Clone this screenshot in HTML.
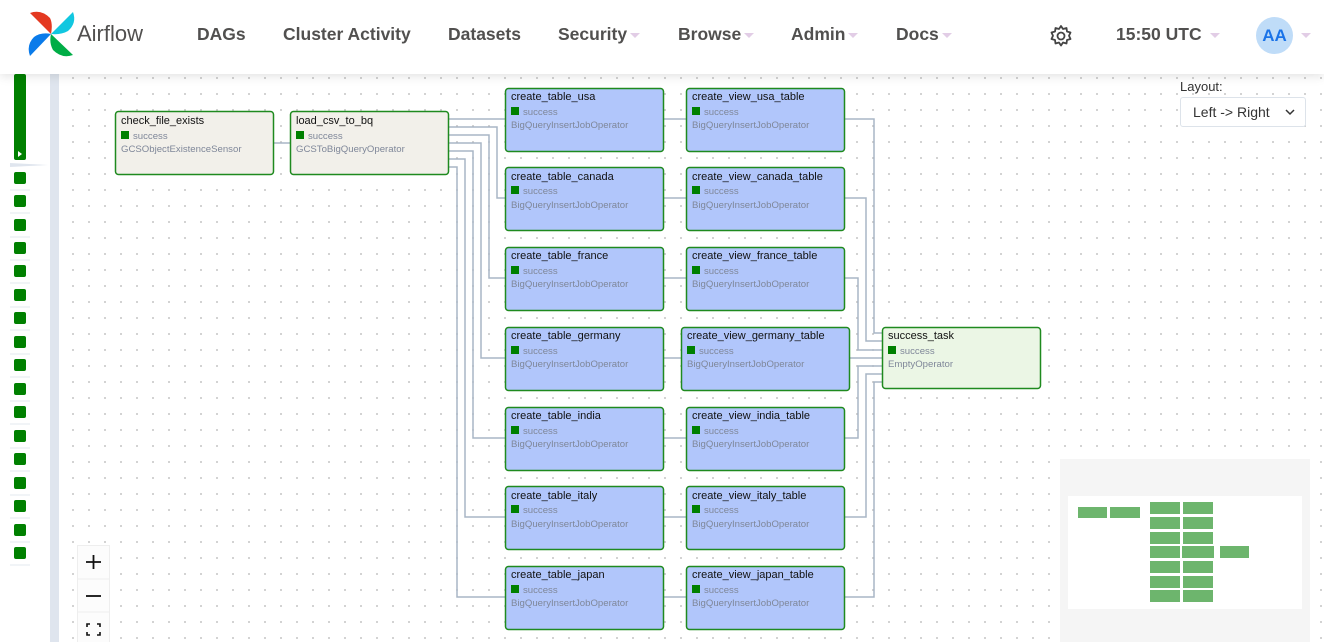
<!DOCTYPE html>
<html><head><meta charset="utf-8"><style>
*{margin:0;padding:0;box-sizing:border-box}
body{width:1324px;height:642px;overflow:hidden;background:#fff;font-family:"Liberation Sans",sans-serif;position:relative}
.nav{position:absolute;left:0;top:0;width:1324px;height:74px;background:#fff;z-index:5;box-shadow:0 2px 10px rgba(0,0,0,.12)}
.nav .it{position:absolute;top:24px;font-size:17.5px;font-weight:bold;color:#51504f}
.car{display:inline-block;width:0;height:0;border-left:5px solid transparent;border-right:5px solid transparent;border-top:5px solid #e2cde6;margin-left:3px;vertical-align:middle}
.graph{position:absolute;left:59px;top:74px;width:1265px;height:568px;background-color:#fff;background-image:radial-gradient(circle,#c8c8c8 0.9px,transparent 1.1px);background-size:16px 16px;background-position:6px -4px}
</style></head><body>
<div class="nav">
<svg style="position:absolute;left:27px;top:10px" width="50" height="48" viewBox="0 0 50 48">
<path d="M24,24 L3,3 Q14,-1 23,8 Q26,14 24,24Z" fill="#e43921"/>
<path d="M24,24 L46,2 Q50,13 41,21 Q34,25 24,24Z" fill="#11c7e0"/>
<path d="M24,24 L46,45 Q35,49 26,40 Q22,33 24,24Z" fill="#00ad46"/>
<path d="M24,24 L3,46 Q-1,35 7,27 Q14,22 24,24Z" fill="#0a7bea"/>
</svg>
<div style="position:absolute;left:77px;top:21px;font-size:22px;color:#51504f">Airflow</div>
<div class="it" style="left:197px">DAGs</div>
<div class="it" style="left:283px">Cluster Activity</div>
<div class="it" style="left:448px">Datasets</div>
<div class="it" style="left:558px">Security<span class="car"></span></div>
<div class="it" style="left:678px">Browse<span class="car"></span></div>
<div class="it" style="left:791px">Admin<span class="car"></span></div>
<div class="it" style="left:896px">Docs<span class="car"></span></div>
<svg style="position:absolute;left:1049px;top:24px" width="24" height="24" viewBox="0 0 24 24"><path d="M12 2l2 3 3.5-1 .5 3.5 3.5 1-1.5 3.3 1.5 3.2-3.5 1-.5 3.5-3.5-1-2 3-2-3-3.5 1-.5-3.5-3.5-1 1.5-3.2-1.5-3.3 3.5-1 .5-3.5 3.5 1z" fill="none" stroke="#444" stroke-width="1.8" stroke-linejoin="round"/><circle cx="12" cy="12" r="3.5" fill="none" stroke="#444" stroke-width="1.8"/></svg>
<div class="it" style="left:1116px">15:50 UTC<span class="car" style="margin-left:8px"></span></div>
<div style="position:absolute;left:1256px;top:17px;width:37px;height:37px;border-radius:50%;background:#bfdcf8;color:#1a73e8;font-weight:bold;font-size:17px;text-align:center;line-height:37px">AA</div>
<span class="car" style="position:absolute;left:1298px;top:33px"></span>
</div>

<div style="position:absolute;left:50px;top:74px;width:9px;height:568px;background:#dfe5ee"></div>
<svg style="position:absolute;left:0;top:74px" width="50" height="568">
<rect x="14" y="0" width="12" height="86" rx="2" fill="#008000"/>
<polygon points="18,77 18,83 22,80" fill="#fff"/>
<polygon points="10,89 48,91 10,93" fill="#dfe5ee"/>
<g fill="#008000">
<rect x="14" y="98" width="12" height="12" rx="2"/><rect x="14" y="121" width="12" height="12" rx="2"/><rect x="14" y="145" width="12" height="12" rx="2"/><rect x="14" y="168" width="12" height="12" rx="2"/><rect x="14" y="191" width="12" height="12" rx="2"/><rect x="14" y="215" width="12" height="12" rx="2"/><rect x="14" y="238" width="12" height="12" rx="2"/><rect x="14" y="262" width="12" height="12" rx="2"/><rect x="14" y="285" width="12" height="12" rx="2"/><rect x="14" y="309" width="12" height="12" rx="2"/><rect x="14" y="332" width="12" height="12" rx="2"/><rect x="14" y="356" width="12" height="12" rx="2"/><rect x="14" y="379" width="12" height="12" rx="2"/><rect x="14" y="403" width="12" height="12" rx="2"/><rect x="14" y="426" width="12" height="12" rx="2"/><rect x="14" y="450" width="12" height="12" rx="2"/><rect x="14" y="473" width="12" height="12" rx="2"/>
</g>
<g stroke="#e3e8ef" stroke-width="1">
<line x1="10" y1="116" x2="30" y2="116"/><line x1="10" y1="139" x2="30" y2="139"/><line x1="10" y1="163" x2="30" y2="163"/><line x1="10" y1="186" x2="30" y2="186"/><line x1="10" y1="209" x2="30" y2="209"/><line x1="10" y1="233" x2="30" y2="233"/><line x1="10" y1="256" x2="30" y2="256"/><line x1="10" y1="280" x2="30" y2="280"/><line x1="10" y1="303" x2="30" y2="303"/><line x1="10" y1="327" x2="30" y2="327"/><line x1="10" y1="350" x2="30" y2="350"/><line x1="10" y1="374" x2="30" y2="374"/><line x1="10" y1="397" x2="30" y2="397"/><line x1="10" y1="421" x2="30" y2="421"/><line x1="10" y1="444" x2="30" y2="444"/><line x1="10" y1="468" x2="30" y2="468"/><line x1="10" y1="491" x2="30" y2="491"/>
</g>
</svg>

<div class="graph"></div>

<svg style="position:absolute;left:0;top:0" width="1324" height="642" font-family="Liberation Sans, sans-serif">
<g fill="none" stroke="#a9b6c5" stroke-width="1.5">
<path d="M273,143H290"/>
<path d="M449,119H505"/>
<path d="M449,127H497V198H505"/>
<path d="M449,135H489V278H505"/>
<path d="M449,143H481V358H505"/>
<path d="M449,151H473V438H505"/>
<path d="M449,159H465V517H505"/>
<path d="M449,167H457V597H505"/>
<path d="M664,119H686M664,198H686M664,278H686M664,358H681M664,438H686M664,517H686M664,597H686"/>
<path d="M845,119H874V333H882"/>
<path d="M845,198H866V341H882"/>
<path d="M845,278H858V350H882"/>
<path d="M850,358H882"/>
<path d="M845,438H858V366H882"/>
<path d="M845,517H866V374H882"/>
<path d="M845,597H874V382H882"/>
</g>
<g stroke="#1f8a1f" stroke-width="1.5">
<rect x="115.5" y="111.5" width="158" height="63" rx="3" fill="#f2f0ea"/>
<rect x="290.5" y="111.5" width="158" height="63" rx="3" fill="#f2f0ea"/>
<g fill="#b1c6fb">
<rect x="505.5" y="88.5" width="158" height="63" rx="3"/><rect x="505.5" y="167.5" width="158" height="63" rx="3"/><rect x="505.5" y="247.5" width="158" height="63" rx="3"/><rect x="505.5" y="327.5" width="158" height="63" rx="3"/><rect x="505.5" y="407.5" width="158" height="63" rx="3"/><rect x="505.5" y="486.5" width="158" height="63" rx="3"/><rect x="505.5" y="566.5" width="158" height="63" rx="3"/>
<rect x="686.5" y="88.5" width="158" height="63" rx="3"/><rect x="686.5" y="167.5" width="158" height="63" rx="3"/><rect x="686.5" y="247.5" width="158" height="63" rx="3"/><rect x="681.5" y="327.5" width="168" height="63" rx="3"/><rect x="686.5" y="407.5" width="158" height="63" rx="3"/><rect x="686.5" y="486.5" width="158" height="63" rx="3"/><rect x="686.5" y="566.5" width="158" height="63" rx="3"/>
</g>
<rect x="882.5" y="327.5" width="158" height="61" rx="3" fill="#ebf6e5"/>
</g>
<g fill="#008000">
<rect x="121" y="131" width="8" height="8"/><rect x="296" y="131" width="8" height="8"/>
<rect x="511" y="107" width="8" height="8"/><rect x="511" y="186" width="8" height="8"/><rect x="511" y="266" width="8" height="8"/><rect x="511" y="346" width="8" height="8"/><rect x="511" y="426" width="8" height="8"/><rect x="511" y="505" width="8" height="8"/><rect x="511" y="585" width="8" height="8"/>
<rect x="692" y="107" width="8" height="8"/><rect x="692" y="186" width="8" height="8"/><rect x="692" y="266" width="8" height="8"/><rect x="687" y="346" width="8" height="8"/><rect x="692" y="426" width="8" height="8"/><rect x="692" y="505" width="8" height="8"/><rect x="692" y="585" width="8" height="8"/>
<rect x="888" y="346" width="8" height="8"/>
</g>
<g font-size="11" fill="#111">
<text x="121" y="124">check_file_exists</text><text x="296" y="124">load_csv_to_bq</text>
<text x="511" y="100">create_table_usa</text><text x="511" y="180">create_table_canada</text><text x="511" y="259">create_table_france</text><text x="511" y="339">create_table_germany</text><text x="511" y="419">create_table_india</text><text x="511" y="499">create_table_italy</text><text x="511" y="578">create_table_japan</text>
<text x="692" y="100">create_view_usa_table</text><text x="692" y="180">create_view_canada_table</text><text x="692" y="259">create_view_france_table</text><text x="687" y="339">create_view_germany_table</text><text x="692" y="419">create_view_india_table</text><text x="692" y="499">create_view_italy_table</text><text x="692" y="578">create_view_japan_table</text>
<text x="888" y="339">success_task</text>
</g>
<g font-size="9.6" fill="#7f8799">
<text x="133" y="139">success</text><text x="121" y="152">GCSObjectExistenceSensor</text>
<text x="308" y="139">success</text><text x="296" y="152">GCSToBigQueryOperator</text>
<text x="523" y="115">success</text><text x="511" y="128">BigQueryInsertJobOperator</text>
<text x="523" y="194">success</text><text x="511" y="208">BigQueryInsertJobOperator</text>
<text x="523" y="274">success</text><text x="511" y="287">BigQueryInsertJobOperator</text>
<text x="523" y="354">success</text><text x="511" y="367">BigQueryInsertJobOperator</text>
<text x="523" y="434">success</text><text x="511" y="447">BigQueryInsertJobOperator</text>
<text x="523" y="513">success</text><text x="511" y="527">BigQueryInsertJobOperator</text>
<text x="523" y="593">success</text><text x="511" y="606">BigQueryInsertJobOperator</text>
<text x="704" y="115">success</text><text x="692" y="128">BigQueryInsertJobOperator</text>
<text x="704" y="194">success</text><text x="692" y="208">BigQueryInsertJobOperator</text>
<text x="704" y="274">success</text><text x="692" y="287">BigQueryInsertJobOperator</text>
<text x="699" y="354">success</text><text x="687" y="367">BigQueryInsertJobOperator</text>
<text x="704" y="434">success</text><text x="692" y="447">BigQueryInsertJobOperator</text>
<text x="704" y="513">success</text><text x="692" y="527">BigQueryInsertJobOperator</text>
<text x="704" y="593">success</text><text x="692" y="606">BigQueryInsertJobOperator</text>
<text x="900" y="354">success</text><text x="888" y="367">EmptyOperator</text>
</g>
<rect x="1060" y="459" width="250" height="183" fill="#f5f5f5"/>
<rect x="1068" y="496" width="234" height="113" fill="#fff"/>
<g fill="#6db56d">
<rect x="1078" y="507" width="29" height="11"/><rect x="1110" y="507" width="30" height="11"/>
<rect x="1150" y="502" width="30" height="12"/><rect x="1150" y="517" width="30" height="12"/><rect x="1150" y="532" width="30" height="12"/><rect x="1150" y="546" width="30" height="12"/><rect x="1150" y="561" width="30" height="12"/><rect x="1150" y="576" width="30" height="12"/><rect x="1150" y="590" width="30" height="12"/>
<rect x="1183" y="502" width="30" height="12"/><rect x="1183" y="517" width="30" height="12"/><rect x="1183" y="532" width="30" height="12"/><rect x="1182" y="546" width="32" height="12"/><rect x="1183" y="561" width="30" height="12"/><rect x="1183" y="576" width="30" height="12"/><rect x="1183" y="590" width="30" height="12"/>
<rect x="1220" y="546" width="29" height="12"/>
</g>
<g>
<rect x="77.5" y="545.5" width="32" height="97" fill="#fcfcfc" stroke="#eee"/>
<line x1="78" y1="579" x2="109" y2="579" stroke="#eee"/><line x1="78" y1="612" x2="109" y2="612" stroke="#eee"/>
<path d="M86,562H101M93.5,555V569" stroke="#111" stroke-width="1.8"/>
<path d="M86,596H101" stroke="#111" stroke-width="1.8"/>
<path d="M87,627V624H90M97,624H100V627M100,632V635H97M90,635H87V632" stroke="#111" stroke-width="1.6" fill="none"/>
</g>
</svg>

<div style="position:absolute;left:1180px;top:79px;font-size:13px;color:#333">Layout:</div>
<div style="position:absolute;left:1180px;top:97px;width:126px;height:30px;border:1px solid #dde3ea;border-radius:3px;background:#fff;font-size:14px;color:#333;padding:6px 0 0 12px">Left -&gt; Right
<svg style="position:absolute;right:10px;top:11px" width="10" height="7"><path d="M1,1L5,5L9,1" stroke="#333" stroke-width="1.5" fill="none"/></svg></div>
</body></html>
